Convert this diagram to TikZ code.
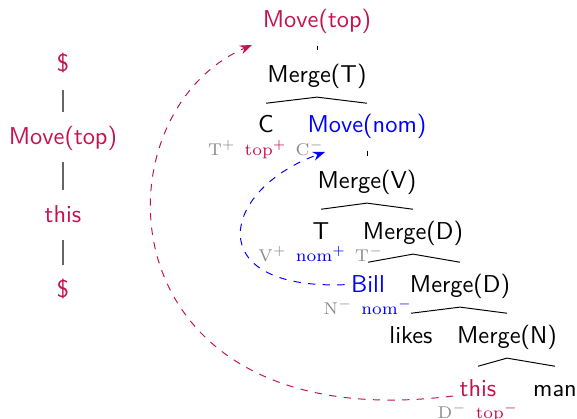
\documentclass[tikz,border=0pt]{standalone}
\usepackage{xcolor}
\usepackage{tikz}
\usetikzlibrary{arrows.meta,positioning}
\definecolor{topRed}  {RGB}{196,18,80}
\definecolor{nomBlue} {RGB}{0,0,255}
\definecolor{featGray}{gray}{0.55}
\definecolor{chainGray}{gray}{0.40}
\newcommand{\licensor}[1]{\ensuremath{\mathrm{#1}^{+}}}
\newcommand{\licensee}[1]{\ensuremath{\mathrm{#1}^{-}}}
\newcommand{\fgap}{\ \hspace{1pt}}

\begin{document}
\begin{tikzpicture}[x=0.41pt, y=-0.41pt,
      lab/.style={font=\sffamily, inner sep=2.5pt, text height=9.5pt,
                  text depth=3.5pt, anchor=base},
      toplab/.style={lab, text=topRed},
      nomlab/.style={lab, text=nomBlue},
      feats/.style={font=\rmfamily\scriptsize, text=featGray, inner sep=1pt},
      branch/.style={draw=black, thin},
      link/.style={draw=chainGray, line width=0.6pt, shorten <=1pt, shorten >=1pt},
      mover/.style={dashed, -{Stealth[length=5pt]}}]
    \useasboundingbox (0,0) rectangle (577,419);
    % derivation chain
    \node[toplab] (dollarTop) at (63,72)  {\$};
    \node[toplab] (chainMove) at (63,144) {Move(top)};
    \node[toplab] (chainThis) at (63,222) {this};
    \node[toplab] (dollarBot) at (63,297) {\$};
    \draw[link] (dollarTop.south) -- (chainMove.north);
    \draw[link] (chainMove.south) -- (chainThis.north);
    \draw[link] (chainThis.south) -- (dollarBot.north);
    % derivation tree
    \node[toplab] (movetop) at (317,28)  {Move(top)};
    \node[lab]    (mergeT)  at (317,82)  {Merge(T)};
    \node[lab]    (c)       at (266,133) {C};
    \node[nomlab] (movenom) at (367,133) {Move(nom)};
    \node[lab]    (mergeV)  at (367,188) {Merge(V)};
    \node[lab]    (t)       at (321,239) {T};
    \node[lab]    (mergeD)  at (413,239) {Merge(D)};
    \node[nomlab] (bill)    at (368,292) {Bill};
    \node[lab]    (mergeDb) at (460,292) {Merge(D)};
    \node[lab]    (likes)   at (411,343) {likes};
    \node[lab]    (mergeN)  at (507,343) {Merge(N)};
    \node[toplab] (this)    at (478,396) {this};
    \node[lab]    (man)     at (555,396) {man};
    % feature bundles
    \node[feats, below=-4.5pt of c]    (cfeats)    {\licensor{T}\fgap\textcolor{topRed}{\licensor{top}}\fgap\licensee{C}};
    \node[feats, below=-4.5pt of t]    (tfeats)    {\licensor{V}\fgap\textcolor{nomBlue}{\licensor{nom}}\fgap\licensee{T}};
    \node[feats, below=-4.5pt of bill] (billfeats) {\licensee{N}\fgap\textcolor{nomBlue}{\licensee{nom}}};
    \node[feats, below=-4.5pt of this] (thisfeats) {\licensee{D}\fgap\textcolor{topRed}{\licensee{top}}};
    % branches
    \draw[branch, shorten <=1pt, shorten >=1pt] (movetop.south) -- (mergeT.north);
    \draw[branch] (c.north) -- (mergeT.south) -- (movenom.north);
    \draw[branch, shorten <=1pt, shorten >=1pt] (movenom.south) -- (mergeV.north);
    \draw[branch] (t.north) -- (mergeV.south) -- (mergeD.north);
    \draw[branch] (bill.north) -- (mergeD.south) -- (mergeDb.north);
    \draw[branch] (likes.north) -- (mergeDb.south) -- (mergeN.north);
    \draw[branch] (this.north) -- (mergeN.south) -- (man.north);
    % movement
    \coordinate (toplanding) at (252,45);
    \coordinate (nomlanding) at (325,152);
    \draw[mover, topRed] (this.base west) .. controls (100,440) and (92,114) .. (toplanding);
    \draw[mover, nomBlue] (bill.west) .. controls (200,290) and (220,190) .. (nomlanding);
  \end{tikzpicture}
\end{document}
